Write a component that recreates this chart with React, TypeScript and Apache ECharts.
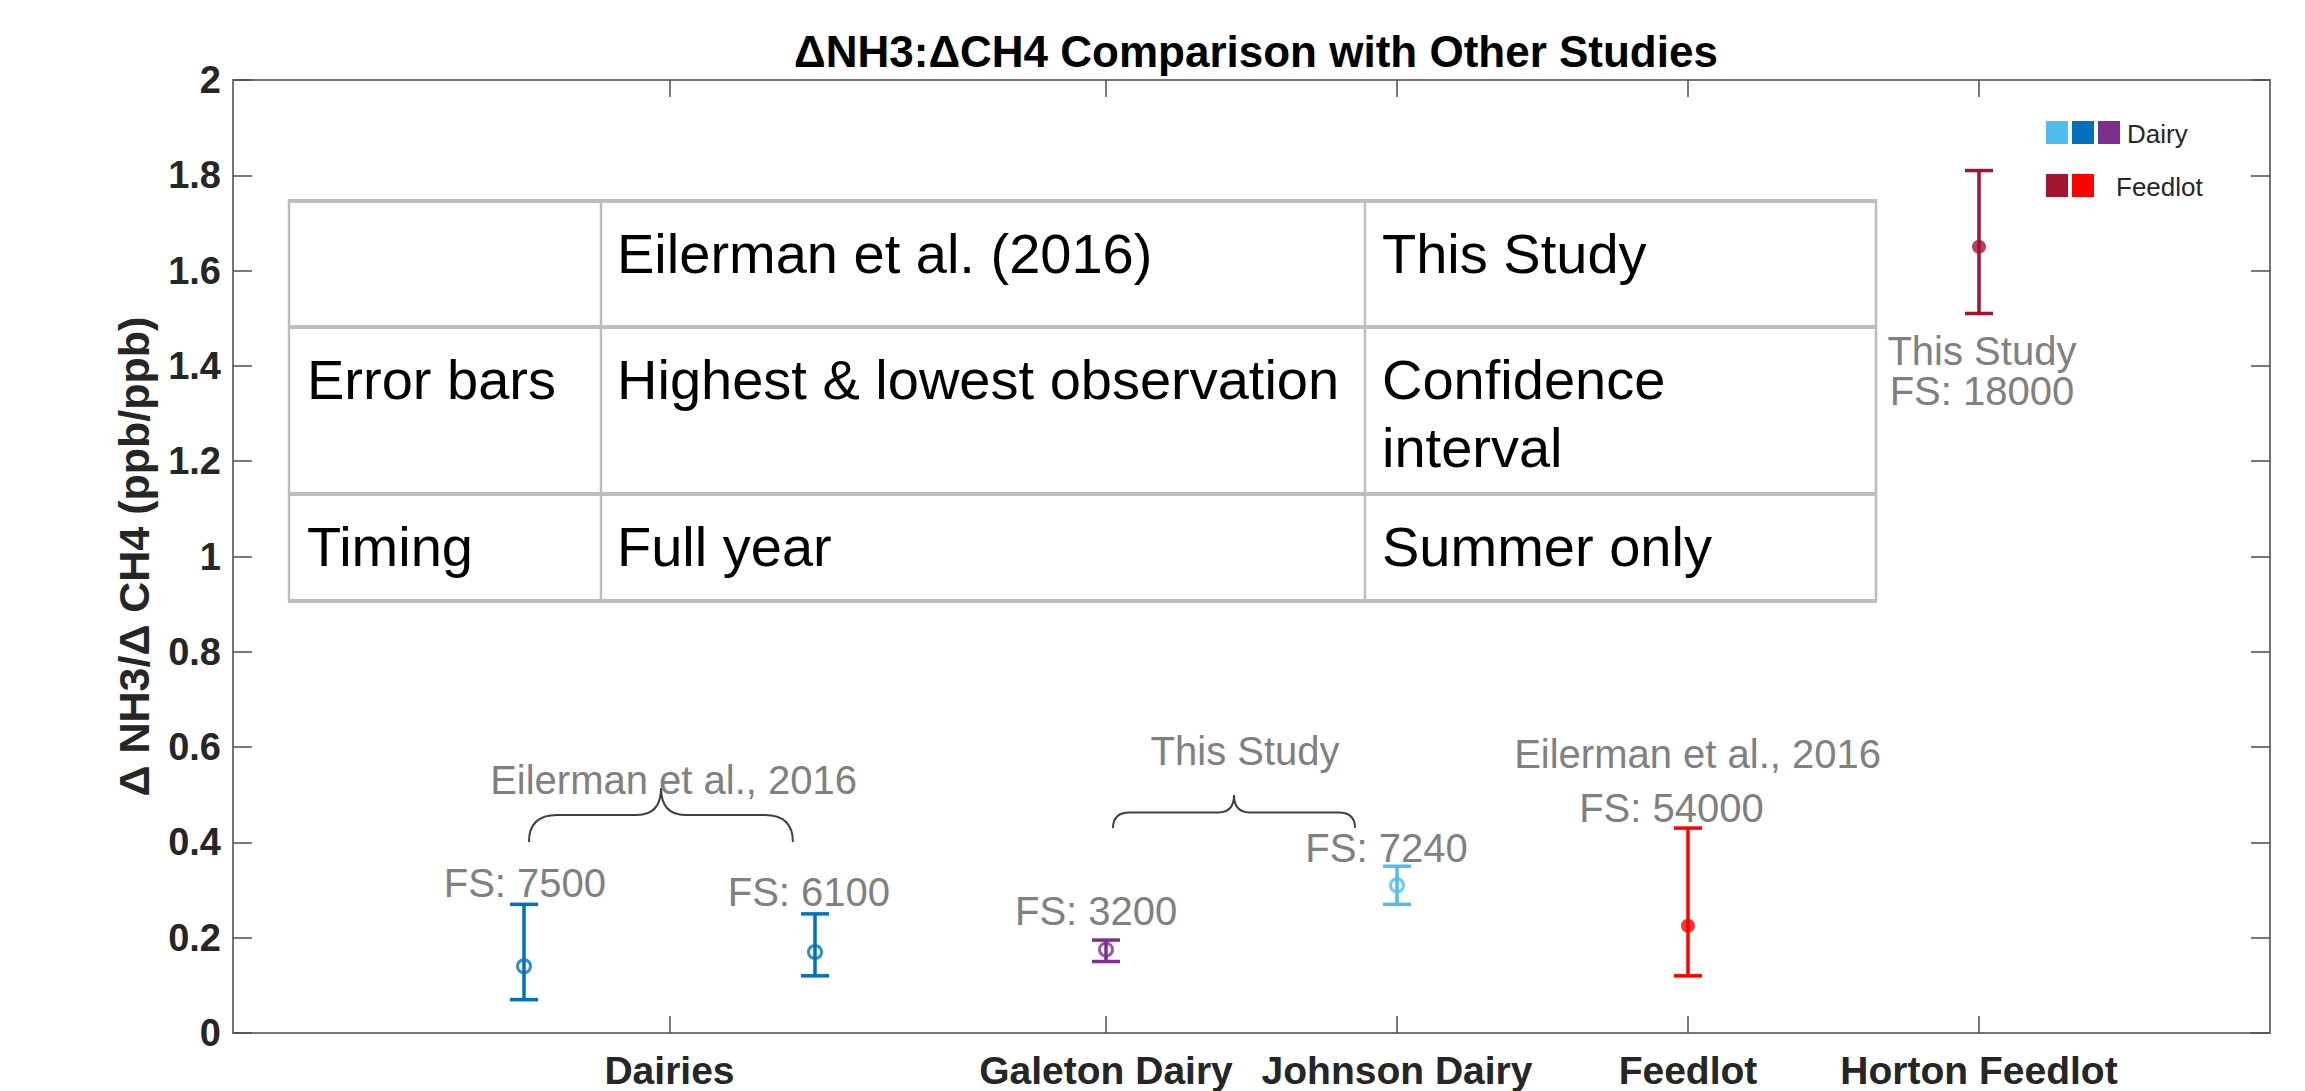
import React, { useEffect, useRef } from "react";
import * as echarts from "echarts";

const FONT = "'Liberation Sans', Arial, Helvetica, sans-serif";

// x ticks / categories
const xTickValues = [1.5, 3, 4, 5, 6];
const xTickLabels = ["Dairies", "Galeton Dairy", "Johnson Dairy", "Feedlot", "Horton Feedlot"];

// points
const pointX = [1, 2, 3, 4, 5, 6];
const pointMean = [0.14, 0.17, 0.175, 0.31, 0.225, 1.65];
const pointLow = [0.07, 0.12, 0.15, 0.27, 0.12, 1.51];
const pointHigh = [0.27, 0.25, 0.195, 0.35, 0.43, 1.81];
const pointColors = ["#0072BD", "#0072BD", "#7E2F8E", "#4DBEEE", "#FF0000", "#A2142F"];
const pointFilled = [false, false, false, false, true, true];

// text annotations (data coordinates)
const annoText = [
  "FS: 7500",
  "FS: 6100",
  "FS: 3200",
  "Eilerman et al., 2016",
  "This Study",
  "FS: 7240",
  "Eilerman et al., 2016",
  "FS: 54000",
  "This Study",
  "FS: 18000",
];
const annoX = [1.003, 1.979, 2.966, 1.514, 3.478, 3.964, 5.033, 4.943, 6.01, 6.01];
const annoY = [0.314, 0.296, 0.257, 0.53, 0.591, 0.389, 0.5855, 0.473, 1.432, 1.348];

// braces: [xStart, xEnd, xPeak, yEnds, yHorizontal, yPeak]
const braceLeft = [1.017, 1.924, 1.471, 0.401, 0.4575, 0.514];
const braceMiddle = [3.024, 3.856, 3.44, 0.43, 0.463, 0.4995];

// table
const tableRows = [
  ["", "Eilerman et al. (2016)", "This Study"],
  ["Error bars", "Highest & lowest observation", "Confidence\ninterval"],
  ["Timing", "Full year", "Summer only"],
];

// legend
const legendGroups = [
  { label: "Dairy", colors: ["#4DBEEE", "#0072BD", "#7E2F8E"] },
  { label: "Feedlot", colors: ["#A2142F", "#FF0000"] },
];

const yTitle = "\u0394 NH3/\u0394 CH4 (ppb/ppb)";
const chartTitle = "\u0394NH3:\u0394CH4 Comparison with Other Studies";

export default function App() {
  const ref = useRef<HTMLDivElement>(null);

  useEffect(() => {
    document.body.style.margin = "0";
    if (!ref.current) return;
    const chart = echarts.init(ref.current, undefined, { renderer: "svg" });

    const axisLineStyle = { color: "#757575", width: 2 };
    const tickStyle = { color: "#4d4d4d", width: 1.5 };

    // table graphics
    const colX = [289, 601, 1365, 1876];
    const rowY = [201, 327, 494, 601];
    const tableChildren: any[] = [
      {
        type: "rect",
        shape: { x: colX[0], y: rowY[0], width: colX[3] - colX[0], height: rowY[3] - rowY[0] },
        style: { fill: "#ffffff", stroke: "none" },
      },
    ];
    colX.forEach((cx) => {
      tableChildren.push({
        type: "line",
        shape: { x1: cx, y1: rowY[0], x2: cx, y2: rowY[3] },
        style: { stroke: "#bdbdbd", lineWidth: 2.5 },
      });
    });
    rowY.forEach((ry) => {
      tableChildren.push({
        type: "line",
        shape: { x1: colX[0] - 1, y1: ry, x2: colX[3] + 1, y2: ry },
        style: { stroke: "#bdbdbd", lineWidth: 4 },
      });
    });
    const padX = [18, 16, 17];
    tableRows.forEach((row, r) => {
      row.forEach((cell, c) => {
        if (!cell) return;
        cell.split("\n").forEach((line, li) => {
          tableChildren.push({
            type: "text",
            x: colX[c] + padX[c],
            y: rowY[r] + 52 + li * 68,
            style: {
              text: line,
              fontSize: 56,
              fontFamily: FONT,
              fill: "#000000",
              align: "left",
              verticalAlign: "middle",
            },
          });
        });
      });
    });

    // legend graphics
    const legendChildren: any[] = [];
    const legRowY = [121, 174];
    const legTextX = [2127, 2116];
    legendGroups.forEach((g, gi) => {
      g.colors.forEach((col, ci) => {
        legendChildren.push({
          type: "rect",
          shape: { x: 2046 + ci * 26, y: legRowY[gi], width: 22, height: 23 },
          style: { fill: col },
        });
      });
      legendChildren.push({
        type: "text",
        x: legTextX[gi],
        y: legRowY[gi] + 12.5,
        style: {
          text: g.label,
          fontSize: 26,
          fontFamily: FONT,
          fill: "#262626",
          align: "left",
          verticalAlign: "middle",
        },
      });
    });

    const labelMap: Record<string, string> = {};
    xTickValues.forEach((v, i) => (labelMap[String(v)] = xTickLabels[i]));

    const xAxisBase = {
      type: "value",
      min: 0,
      max: 7,
      splitLine: { show: false },
      axisLine: { show: true, onZero: false, lineStyle: axisLineStyle },
      axisTick: { show: true, inside: true, length: 17, lineStyle: tickStyle, customValues: xTickValues },
    };
    const yAxisBase = {
      type: "value",
      min: 0,
      max: 2,
      interval: 0.2,
      splitLine: { show: false },
      axisLine: { show: true, onZero: false, lineStyle: axisLineStyle },
      axisTick: { show: true, inside: true, length: 19, lineStyle: tickStyle },
    };

    const option: any = {
      animation: false,
      backgroundColor: "#ffffff",
      title: {
        text: chartTitle,
        left: 1251,
        top: 24,
        textAlign: "center",
        textStyle: { fontSize: 44, fontWeight: "bold", color: "#000000", fontFamily: FONT },
      },
      grid: { left: 233, right: 35, top: 80, bottom: 58, show: false },
      xAxis: [
        {
          ...xAxisBase,
          position: "bottom",
          axisLabel: {
            show: true,
            customValues: xTickValues,
            formatter: (v: number) => labelMap[String(v)] ?? "",
            fontSize: 39,
            fontWeight: "bold",
            color: "#262626",
            fontFamily: FONT,
            margin: 18,
          },
        },
        {
          ...xAxisBase,
          position: "top",
          axisLabel: { show: false },
        },
      ],
      yAxis: [
        {
          ...yAxisBase,
          position: "left",
          name: yTitle,
          nameLocation: "middle",
          nameRotate: 90,
          nameGap: 78,
          nameTextStyle: { fontSize: 43, fontWeight: "bold", color: "#262626", fontFamily: FONT },
          axisLabel: {
            show: true,
            fontSize: 38,
            fontWeight: "bold",
            color: "#262626",
            fontFamily: FONT,
            margin: 12,
          },
        },
        {
          ...yAxisBase,
          position: "right",
          axisLabel: { show: false },
        },
      ],
      series: [
        {
          type: "custom",
          name: "braces",
          coordinateSystem: "cartesian2d",
          xAxisIndex: 0,
          yAxisIndex: 0,
          data: [braceLeft, braceMiddle],
          encode: { x: [0, 1, 2], y: [3, 4, 5] },
          renderItem: (params: any, api: any) => {
            const x0 = api.value(0), x1 = api.value(1), xm = api.value(2);
            const yE = api.value(3), yH = api.value(4), yP = api.value(5);
            const pS = api.coord([x0, yE]);
            const pE = api.coord([x1, yE]);
            const pM = api.coord([xm, yH]);
            const pP = api.coord([xm, yP]);
            const YE = pS[1], YH = pM[1], YP = pP[1];
            const X0 = pS[0], X1 = pE[0], XM = pM[0];
            const rE = (YE - YH) * 1.05;
            const rP = (YH - YP) * 0.9;
            const d =
              `M${X0},${YE} Q${X0},${YH} ${X0 + rE},${YH} L${XM - rP},${YH} ` +
              `Q${XM},${YH} ${XM},${YP} Q${XM},${YH} ${XM + rP},${YH} ` +
              `L${X1 - rE},${YH} Q${X1},${YH} ${X1},${YE}`;
            return {
              type: "path",
              shape: { pathData: d },
              style: { stroke: "#404040", lineWidth: 2, fill: "none" },
            };
          },
          z: 3,
        },
        {
          type: "custom",
          name: "errorbars",
          coordinateSystem: "cartesian2d",
          data: pointX.map((x, i) => [x, pointLow[i], pointHigh[i]]),
          encode: { x: 0, y: [1, 2] },
          renderItem: (params: any, api: any) => {
            const x = api.value(0);
            const pLo = api.coord([x, api.value(1)]);
            const pHi = api.coord([x, api.value(2)]);
            const color = pointColors[params.dataIndex];
            const hw = 14;
            const style = { stroke: color, lineWidth: 3.5, fill: "none" };
            return {
              type: "group",
              children: [
                { type: "line", shape: { x1: pLo[0], y1: pLo[1], x2: pHi[0], y2: pHi[1] }, style },
                { type: "line", shape: { x1: pLo[0] - hw, y1: pLo[1], x2: pLo[0] + hw, y2: pLo[1] }, style },
                { type: "line", shape: { x1: pHi[0] - hw, y1: pHi[1], x2: pHi[0] + hw, y2: pHi[1] }, style },
              ],
            };
          },
          z: 4,
        },
        {
          type: "scatter",
          name: "points",
          symbol: "circle",
          z: 5,
          data: pointX.map((x, i) => ({
            value: [x, pointMean[i]],
            symbolSize: pointFilled[i] ? 14 : 13,
            itemStyle: pointFilled[i]
              ? { color: pointColors[i], borderWidth: 0 }
              : { color: "rgba(0,0,0,0)", borderColor: pointColors[i], borderWidth: 3 },
          })),
        },
        {
          type: "custom",
          name: "annotations",
          coordinateSystem: "cartesian2d",
          data: annoX.map((x, i) => [x, annoY[i]]),
          renderItem: (params: any, api: any) => {
            const p = api.coord([api.value(0), api.value(1)]);
            return {
              type: "text",
              x: p[0],
              y: p[1],
              style: {
                text: annoText[params.dataIndex],
                fontSize: 40,
                fontFamily: FONT,
                fill: "#808080",
                align: "center",
                verticalAlign: "middle",
              },
            };
          },
          z: 6,
        },
      ],
      graphic: [
        { type: "group", z: 10, children: tableChildren },
        { type: "group", z: 10, children: legendChildren },
      ],
    };

    chart.setOption(option);
    return () => chart.dispose();
  }, []);

  return <div ref={ref} style={{ width: 2305, height: 1091 }} />;
}
